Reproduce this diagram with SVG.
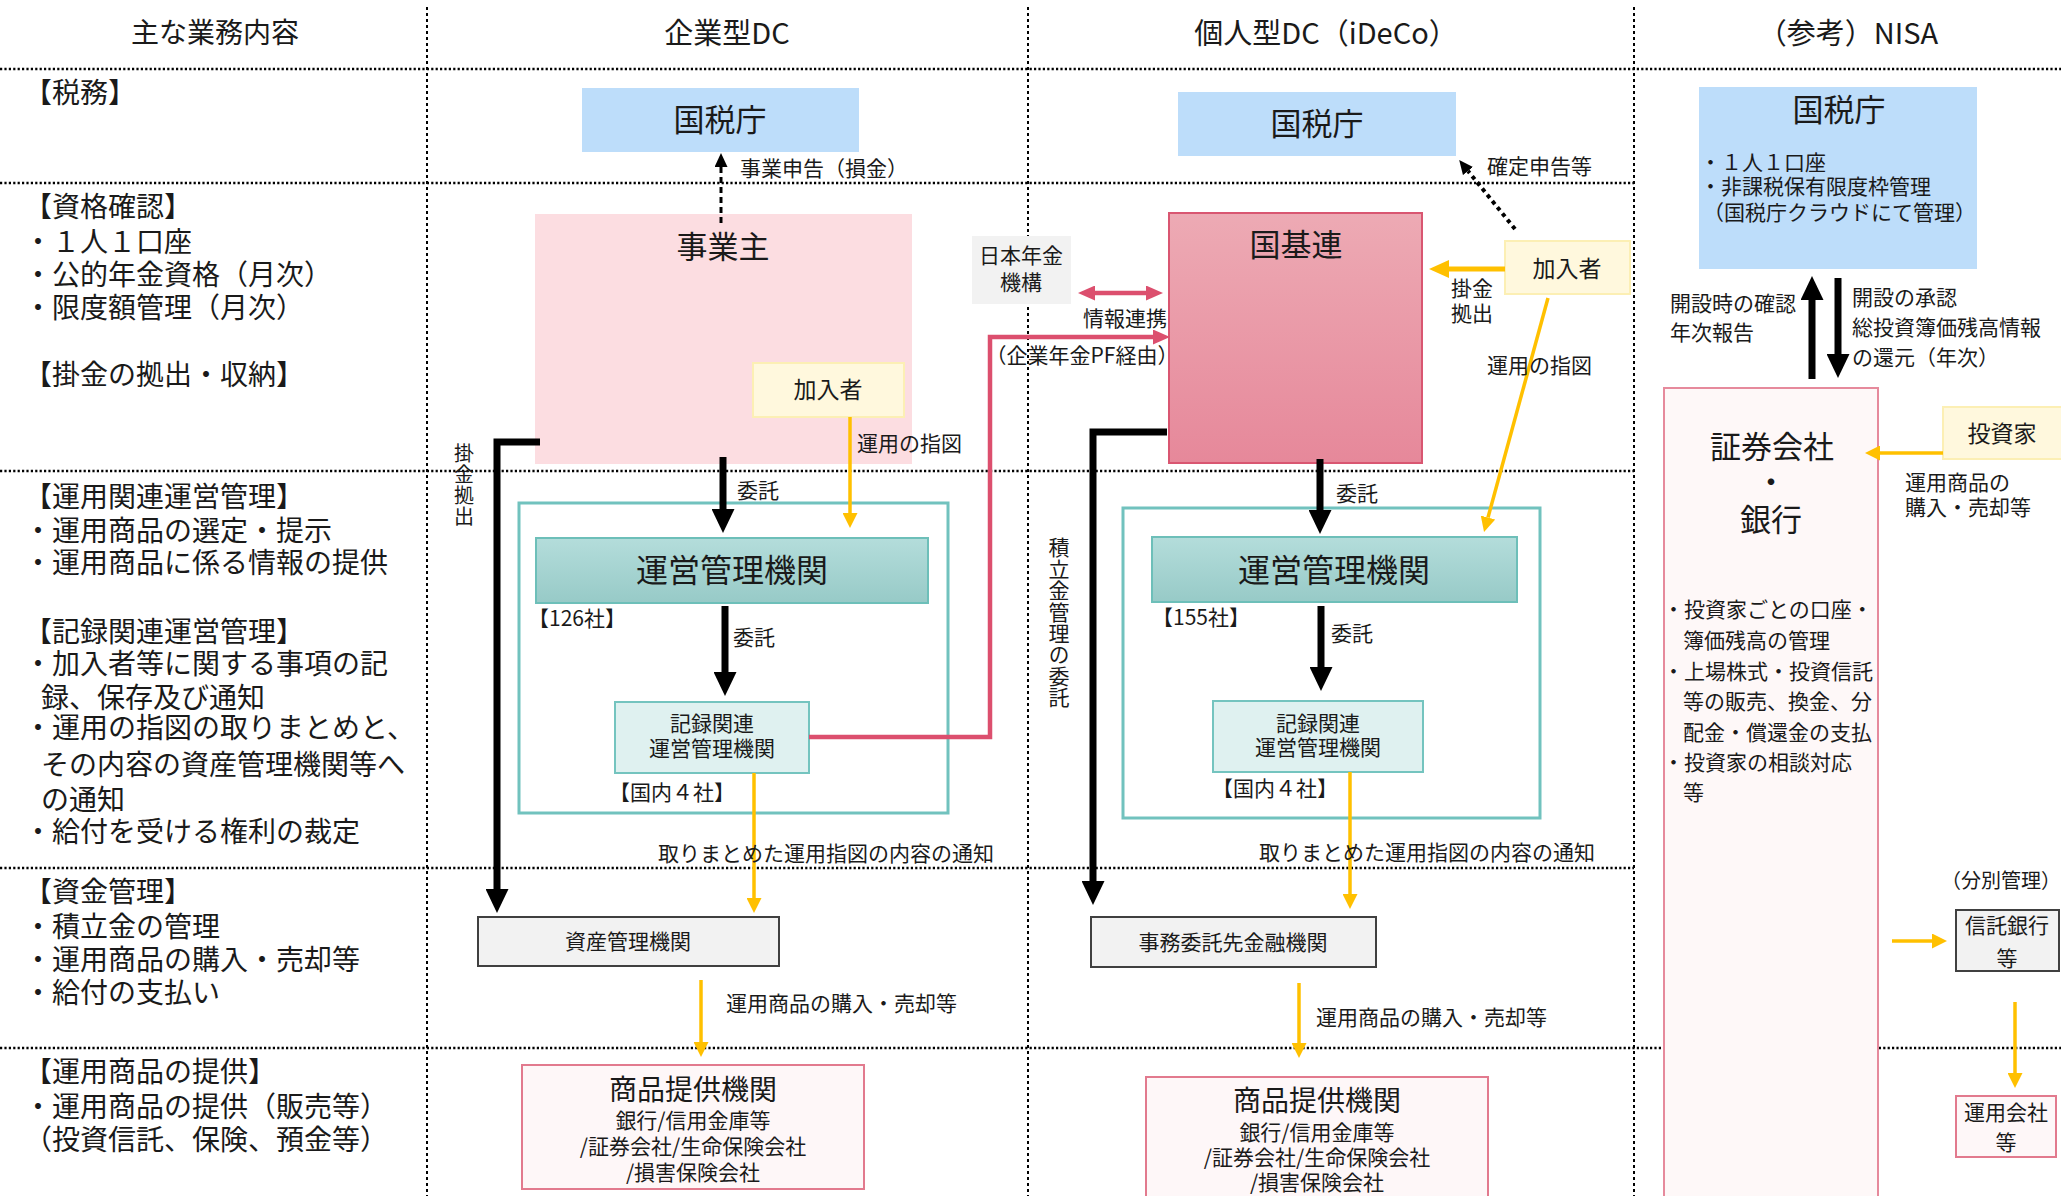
<svg xmlns="http://www.w3.org/2000/svg" width="2061" height="1196" viewBox="0 0 2061 1196">
<style>
.t{font-family:"Noto Sans CJK JP","Noto Sans",sans-serif;fill:#1a1a1a}
.h{font-size:28px;text-anchor:middle}
.row{font-size:28px}
.s{font-size:21px}
.m{text-anchor:middle}
.ti{font-size:31px;text-anchor:middle}
.vt{writing-mode:vertical-rl}
.gh{stroke:#000;stroke-width:2.5;stroke-dasharray:2.2 2.2;fill:none}
.gv{stroke:#000;stroke-width:2;stroke-dasharray:3 3;fill:none}
.blk{stroke:#000;stroke-width:7;fill:none;marker-end:url(#ahBlack)}
.yel{stroke:#FFC000;stroke-width:3.5;fill:none;marker-end:url(#ahYel)}
.yelb{stroke:#FFC000;stroke-width:5;fill:none;marker-end:url(#ahYelBig)}
.pk{stroke:#DC4F6E;stroke-width:4.5;fill:none}
.tax{fill:#BDDDFA}
.kanyu{fill:#FFF8DD;stroke:#FCEFB4;stroke-width:2}
.gray{fill:#F2F2F2;stroke:#404040;stroke-width:2}
.prov{fill:#FEF7F8;stroke:#E27A8E;stroke-width:2}
.teal{fill:none;stroke:#71C2BE;stroke-width:3}
.rec{fill:#DFF1F0;stroke:#74C4BF;stroke-width:2}
.unei{fill:url(#gTeal);stroke:#6DBFB9;stroke-width:2}
</style>
<defs>
<linearGradient id="gTeal" x1="0" y1="0" x2="0" y2="1"><stop offset="0" stop-color="#B4DDDB"/><stop offset="1" stop-color="#97CAC7"/></linearGradient>
<linearGradient id="gPink" x1="0" y1="0" x2="0" y2="1"><stop offset="0" stop-color="#EDAAB4"/><stop offset="1" stop-color="#E6889A"/></linearGradient>
<marker id="ahBlack" viewBox="0 -11.5 24 23" refX="0" refY="0" markerWidth="24" markerHeight="23" markerUnits="userSpaceOnUse" orient="auto"><path d="M0,-11.5 L24,0 L0,11.5 z" fill="#000"/></marker>
<marker id="ahSmall" viewBox="0 -6.5 14 13" refX="0" refY="0" markerWidth="14" markerHeight="13" markerUnits="userSpaceOnUse" orient="auto"><path d="M0,-6.5 L14,0 L0,6.5 z" fill="#000"/></marker>
<marker id="ahYel" viewBox="0 -7.5 15 15" refX="0" refY="0" markerWidth="15" markerHeight="15" markerUnits="userSpaceOnUse" orient="auto"><path d="M0,-7.5 L15,0 L0,7.5 z" fill="#FFC000"/></marker>
<marker id="ahYelBig" viewBox="0 -9 20 18" refX="0" refY="0" markerWidth="20" markerHeight="18" markerUnits="userSpaceOnUse" orient="auto"><path d="M0,-9 L20,0 L0,9 z" fill="#FFC000"/></marker>
<marker id="ahPink" viewBox="0 -7.5 17 15" refX="0" refY="0" markerWidth="17" markerHeight="15" markerUnits="userSpaceOnUse" orient="auto-start-reverse"><path d="M0,-7.5 L17,0 L0,7.5 z" fill="#DC4F6E"/></marker>
</defs>
<rect x="0" y="0" width="2061" height="1196" fill="#fff"/>

<g id="grid">
<line class="gh" x1="0" y1="69" x2="2061" y2="69"/>
<line class="gh" x1="0" y1="183" x2="1634" y2="183"/>
<line class="gh" x1="0" y1="471" x2="1634" y2="471"/>
<line class="gh" x1="0" y1="868" x2="1634" y2="868"/>
<line class="gh" x1="0" y1="1048" x2="2061" y2="1048"/>
<line class="gv" x1="427" y1="7" x2="427" y2="1196"/>
<line class="gv" x1="1028" y1="7" x2="1028" y2="1196"/>
<line class="gv" x1="1634" y1="7" x2="1634" y2="1196"/>
</g>

<g id="headers" class="t h">
<text x="215" y="43">主な業務内容</text>
<text x="727" y="44" style="font-size:29px">企業型DC</text>
<text x="1326" y="44" style="font-size:29px">個人型DC（iDeCo）</text>
<text x="1848" y="44" style="font-size:29px">（参考）NISA</text>
</g>

<g id="row-labels" class="t row">
<text x="24" y="103">【税務】</text>
<text x="24" y="217">【資格確認】</text>
<text x="24" y="252">・１人１口座</text>
<text x="24" y="285">・公的年金資格（月次）</text>
<text x="24" y="318">・限度額管理（月次）</text>
<text x="24" y="385">【掛金の拠出・収納】</text>
<text x="24" y="507">【運用関連運営管理】</text>
<text x="24" y="541">・運用商品の選定・提示</text>
<text x="24" y="573">・運用商品に係る情報の提供</text>
<text x="24" y="642">【記録関連運営管理】</text>
<text x="24" y="674">・加入者等に関する事項の記</text>
<text x="41" y="708">録、保存及び通知</text>
<text x="24" y="738">・運用の指図の取りまとめと、</text>
<text x="41" y="775">その内容の資産管理機関等へ</text>
<text x="41" y="810">の通知</text>
<text x="24" y="842">・給付を受ける権利の裁定</text>
<text x="24" y="902">【資金管理】</text>
<text x="24" y="937">・積立金の管理</text>
<text x="24" y="970">・運用商品の購入・売却等</text>
<text x="24" y="1003">・給付の支払い</text>
<text x="24" y="1082">【運用商品の提供】</text>
<text x="24" y="1117">・運用商品の提供（販売等）</text>
<text x="24" y="1150">（投資信託、保険、預金等）</text>
</g>

<!-- 企業型DC nodes -->
<g id="dc-kokuzei"><rect class="tax" x="582" y="88" width="277" height="64"/><text class="t ti" x="720" y="131">国税庁</text></g>
<g id="dc-jigyounushi"><rect x="535" y="214" width="377" height="250" fill="#FCDDE1"/><text class="t ti" x="723" y="258">事業主</text></g>
<g id="dc-kanyusha"><rect class="kanyu" x="753" y="363" width="151" height="54"/><text class="t m" style="font-size:23px" x="828" y="398">加入者</text></g>
<g id="dc-teal-frame"><rect class="teal" x="519" y="503" width="429" height="310"/></g>
<g id="dc-unei"><rect class="unei" x="536" y="538" width="392" height="65"/><text class="t m" style="font-size:32px" x="732" y="582">運営管理機関</text><text class="t s" x="528" y="626">【126社】</text></g>
<g id="dc-kiroku"><rect class="rec" x="615" y="702" width="194" height="71"/><text class="t s m" x="712" y="731">記録関連</text><text class="t s m" x="712" y="756">運営管理機関</text><text class="t s" x="609" y="800">【国内４社】</text></g>
<g id="dc-shisan"><rect class="gray" x="478" y="917" width="301" height="49"/><text class="t s m" x="628" y="949">資産管理機関</text></g>
<g id="dc-shohin"><rect class="prov" x="522" y="1065" width="342" height="124"/><text class="t m" style="font-size:28px" x="693" y="1100">商品提供機関</text><text class="t s m" x="693" y="1128">銀行/信用金庫等</text><text class="t s m" x="693" y="1154">/証券会社/生命保険会社</text><text class="t s m" x="693" y="1180">/損害保険会社</text></g>

<!-- shared -->
<g id="nenkin-kikou"><rect x="972" y="236" width="99" height="68" fill="#F2F2F2"/><text class="t s m" x="1021" y="263">日本年金</text><text class="t s m" x="1021" y="290">機構</text></g>

<!-- iDeCo nodes -->
<g id="ideco-kokuzei"><rect class="tax" x="1178" y="92" width="278" height="64"/><text class="t ti" x="1317" y="135">国税庁</text></g>
<g id="ideco-kokikiren"><rect x="1169" y="213" width="253" height="250" fill="url(#gPink)" stroke="#D95671" stroke-width="2"/><text class="t ti" x="1296" y="256">国基連</text></g>
<g id="ideco-kanyusha"><rect class="kanyu" x="1505" y="241" width="125" height="53"/><text class="t m" style="font-size:23px" x="1567" y="277">加入者</text></g>
<g id="ideco-teal-frame"><rect class="teal" x="1123" y="508" width="417" height="310"/></g>
<g id="ideco-unei"><rect class="unei" x="1152" y="537" width="365" height="65"/><text class="t m" style="font-size:32px" x="1334" y="582">運営管理機関</text><text class="t s" x="1152" y="625">【155社】</text></g>
<g id="ideco-kiroku"><rect class="rec" x="1213" y="701" width="210" height="71"/><text class="t s m" x="1318" y="731">記録関連</text><text class="t s m" x="1318" y="755">運営管理機関</text><text class="t s" x="1212" y="796">【国内４社】</text></g>
<g id="ideco-jimu"><rect class="gray" x="1091" y="917" width="285" height="50"/><text class="t s m" x="1233" y="950">事務委託先金融機関</text></g>
<g id="ideco-shohin"><rect class="prov" x="1146" y="1077" width="342" height="130"/><text class="t m" style="font-size:28px" x="1317" y="1111">商品提供機関</text><text class="t s m" x="1317" y="1140">銀行/信用金庫等</text><text class="t s m" x="1317" y="1165">/証券会社/生命保険会社</text><text class="t s m" x="1317" y="1190">/損害保険会社</text></g>

<!-- NISA nodes -->
<g id="nisa-kokuzei"><rect class="tax" x="1699" y="87" width="278" height="182"/><text class="t ti" x="1839" y="121">国税庁</text><text class="t s" x="1700" y="170">・１人１口座</text><text class="t s" x="1700" y="194">・非課税保有限度枠管理</text><text class="t s" x="1703" y="220">（国税庁クラウドにて管理）</text></g>
<g id="nisa-shoken"><rect x="1664" y="388" width="214" height="820" fill="#FEF8F8" stroke="#E68A9C" stroke-width="2"/><text class="t ti" x="1772" y="458">証券会社</text><text class="t ti" x="1771" y="493">・</text><text class="t ti" x="1771" y="531">銀行</text>
<text class="t s" x="1663" y="617">・投資家ごとの口座・</text>
<text class="t s" x="1683" y="648">簿価残高の管理</text>
<text class="t s" x="1663" y="679">・上場株式・投資信託</text>
<text class="t s" x="1683" y="709">等の販売、換金、分</text>
<text class="t s" x="1683" y="740">配金・償還金の支払</text>
<text class="t s" x="1663" y="770">・投資家の相談対応</text>
<text class="t s" x="1683" y="800">等</text></g>
<g id="nisa-toushika"><rect class="kanyu" x="1943" y="407" width="120" height="52"/><text class="t m" style="font-size:23px" x="2002" y="442">投資家</text></g>
<g id="nisa-shintaku"><text class="t" style="font-size:20px" text-anchor="end" x="2061" y="888">（分別管理）</text><rect class="gray" x="1956" y="910" width="103" height="61"/><text class="t s m" x="2007" y="933">信託銀行</text><text class="t s m" x="2007" y="966">等</text></g>
<g id="nisa-unyou"><rect class="prov" x="1956" y="1096" width="100" height="61" stroke="#DC6E86"/><text class="t s m" x="2006" y="1120">運用会社</text><text class="t s m" x="2006" y="1150">等</text></g>

<g id="connectors">
<!-- DC -->
<path d="M721,223 V167" stroke="#000" stroke-width="3" stroke-dasharray="6 4" fill="none" marker-end="url(#ahSmall)"/>
<text class="t s" x="740" y="176">事業申告（損金）</text>
<path class="blk" d="M540,442 H497 V889"/>
<text class="t vt" style="font-size:20px;letter-spacing:1.3px" x="464" y="443">掛金拠出</text>
<path class="blk" d="M723,457 V509"/>
<text class="t s" x="737" y="498">委託</text>
<path class="yel" d="M850,417 V513"/>
<text class="t s" x="857" y="451">運用の指図</text>
<path class="blk" d="M725,606 V672"/>
<text class="t s" x="733" y="645">委託</text>
<path class="pk" d="M809,737 H990 V337 H1153" marker-end="url(#ahPink)"/>
<text class="t s m" x="1082" y="363">（企業年金PF経由）</text>
<path class="pk" d="M1095,293 H1146" marker-start="url(#ahPink)" marker-end="url(#ahPink)"/>
<text class="t s m" x="1125" y="326">情報連携</text>
<path class="yel" d="M754,773 V898"/>
<text class="t s" x="658" y="861">取りまとめた運用指図の内容の通知</text>
<path class="yel" d="M701,980 V1042"/>
<text class="t s" x="726" y="1011">運用商品の購入・売却等</text>
<!-- iDeCo -->
<path d="M1515,229 L1468,171" stroke="#000" stroke-width="4" stroke-dasharray="4 4" fill="none" marker-end="url(#ahSmall)"/>
<text class="t s" x="1487" y="174">確定申告等</text>
<path class="yelb" d="M1505,269 H1449"/>
<text class="t s" x="1451" y="296">掛金</text>
<text class="t s" x="1451" y="321">拠出</text>
<path class="yel" d="M1548,298 L1488,517.5"/>
<text class="t s" x="1487" y="373">運用の指図</text>
<path class="blk" d="M1167,432 H1093 V881"/>
<text class="t vt" style="font-size:21px;letter-spacing:0.4px" x="1059" y="537">積立金管理の委託</text>
<path class="blk" d="M1320,459 V510"/>
<text class="t s" x="1336" y="501">委託</text>
<path class="blk" d="M1321,606 V667"/>
<text class="t s" x="1331" y="641">委託</text>
<path class="yel" d="M1350,772 V894"/>
<text class="t s" x="1259" y="860">取りまとめた運用指図の内容の通知</text>
<path class="yel" d="M1299,983 V1043"/>
<text class="t s" x="1316" y="1025">運用商品の購入・売却等</text>
<!-- NISA -->
<path class="blk" d="M1812,379 V300" stroke-width="8"/>
<path class="blk" d="M1838,278 V354" stroke-width="8"/>
<text class="t s" x="1670" y="311">開設時の確認</text>
<text class="t s" x="1670" y="340">年次報告</text>
<text class="t s" x="1852" y="305">開設の承認</text>
<text class="t s" x="1852" y="335">総投資簿価残高情報</text>
<text class="t s" x="1852" y="365">の還元（年次）</text>
<path class="yel" d="M1943,453 H1880" stroke-width="4.5"/>
<text class="t s" x="1905" y="490">運用商品の</text>
<text class="t s" x="1905" y="515">購入・売却等</text>
<path class="yel" d="M1892,941 H1932" stroke-width="5"/>
<path class="yel" d="M2015,1002 V1073" stroke-width="4"/>
</g>
</svg>
